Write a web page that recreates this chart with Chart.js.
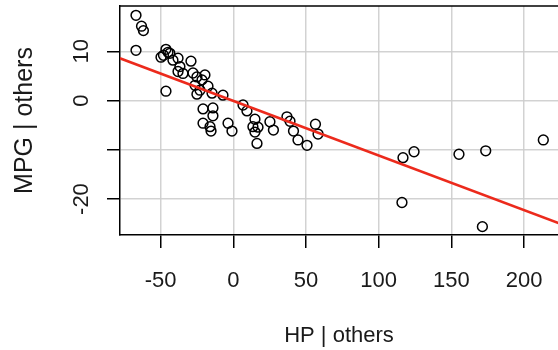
<!DOCTYPE html>
<html>
<head>
<meta charset="utf-8">
<script src="https://cdn.jsdelivr.net/npm/chart.js@4.4.1/dist/chart.umd.min.js"></script>
<style>
  html, body { margin: 0; padding: 0; background: #fff; }
  #wrap { width: 558px; height: 350px; }
</style>
</head>
<body>
<div id="wrap"><canvas id="chart"></canvas></div>
<script>
// Données (résidus partiels)
const hpOthers = [
  -66.9, -63.1, -61.8, -66.9, -46.3, -44.9, -48.0, -49.7, -43.6, -41.5,
  -38.0, -29.1, -36.7, -38.0, -34.6, -27.7, -25.0, -19.5, -21.5, -26.3,
  -22.9, -17.4, -14.6, -25.0, -46.3, -7.1, -20.8, -14.0, -14.0, -20.8,
  -16.0, -15.3, -3.6, -0.9, 6.7, 9.4, 14.9, 13.5, 17.0, 14.9,
  16.3, 25.2, 27.6, 36.9, 39.0, 41.4, 44.5, 50.7, 56.5, 58.3,
  116.7, 124.3, 116.0, 155.2, 173.6, 171.3, 213.2
];
const mpgOthers = [
  17.3, 15.1, 14.2, 10.2, 10.4, 9.8, 9.2, 8.8, 9.6, 8.2,
  8.6, 8.0, 6.9, 5.9, 5.5, 5.6, 4.8, 5.2, 4.2, 3.1,
  2.1, 2.9, 1.5, 1.3, 1.9, 1.1, -1.7, -1.5, -3.1, -4.6,
  -5.3, -6.2, -4.6, -6.2, -0.9, -2.1, -3.8, -5.3, -5.4, -6.4,
  -8.7, -4.3, -6.0, -3.3, -4.2, -6.2, -8.0, -9.1, -4.8, -6.8,
  -11.6, -10.4, -20.7, -10.9, -10.2, -25.6, -8.0
];

// Droite de régression (extrémités)
const fitX = [-78, 224];
const fitY = [8.6, -24.9];

const xTicks = [-50, 0, 50, 100, 150, 200];
const yTicks = [-20, -10, 0, 10];
const yTickLabels = ['-20', '', '0', '10'];

const FONT = "'Liberation Sans', Arial, sans-serif";
const TEXT = '#1a1a1a';

// Bordure du haut + étiquettes verticales de l'axe Y (style R)
const rStyle = {
  id: 'rStyle',
  afterDraw(chart) {
    const ctx = chart.ctx;
    const area = chart.chartArea;
    const y = chart.scales.y;
    ctx.save();
    ctx.strokeStyle = '#000';
    ctx.lineWidth = 1.5;
    ctx.beginPath();
    ctx.moveTo(area.left, area.top);
    ctx.lineTo(area.right, area.top);
    ctx.stroke();

    ctx.fillStyle = TEXT;
    ctx.font = '22px ' + FONT;
    ctx.textAlign = 'center';
    ctx.textBaseline = 'middle';
    yTicks.forEach((v, i) => {
      if (!yTickLabels[i]) return;
      const py = y.getPixelForValue(v);
      ctx.save();
      ctx.translate(82, py);
      ctx.rotate(-Math.PI / 2);
      ctx.fillText(yTickLabels[i], 0, 0);
      ctx.restore();
    });
    ctx.restore();
  }
};

const ctx = document.getElementById('chart').getContext('2d');
new Chart(ctx, {
  type: 'scatter',
  data: {
    datasets: [
      {
        label: 'points',
        data: hpOthers.map((x, i) => ({ x: x, y: mpgOthers[i] })),
        pointStyle: 'circle',
        pointRadius: 4.9,
        pointBorderWidth: 1.5,
        pointBorderColor: '#000',
        pointBackgroundColor: 'rgba(0,0,0,0)',
        showLine: false
      },
      {
        label: 'fit',
        data: fitX.map((x, i) => ({ x: x, y: fitY[i] })),
        showLine: true,
        borderColor: '#ec2a1c',
        borderWidth: 2.6,
        pointRadius: 0,
        order: -1
      }
    ]
  },
  options: {
    responsive: true,
    maintainAspectRatio: false,
    animation: false,
    layout: { autoPadding: false, padding: { top: 6, right: 0, bottom: 0, left: 0 } },
    plugins: {
      legend: { display: false },
      tooltip: { enabled: false }
    },
    scales: {
      x: {
        type: 'linear',
        min: -77.9,
        max: 223.3,
        afterBuildTicks: (scale) => { scale.ticks = xTicks.map(v => ({ value: v })); },
        afterFit: (scale) => {
          scale.height = 115;
          scale.paddingLeft = 0;
          scale.paddingRight = 0;
        },
        grid: {
          color: 'rgba(205,205,205,0.9)',
          lineWidth: 1.5,
          tickColor: '#000',
          tickLength: 13,
          tickWidth: 1.5
        },
        border: { display: true, color: '#000', width: 1.5 },
        ticks: {
          color: TEXT,
          font: { family: FONT, size: 22 },
          padding: 20,
          maxRotation: 0,
          autoSkip: false
        },
        title: {
          display: true,
          text: 'HP | others',
          color: TEXT,
          font: { family: FONT, size: 22 },
          padding: { top: 0, bottom: 1 }
        }
      },
      y: {
        type: 'linear',
        min: -27.3,
        max: 19.2,
        afterBuildTicks: (scale) => { scale.ticks = yTicks.map(v => ({ value: v })); },
        afterFit: (scale) => {
          scale.width = 120;
          scale.paddingTop = 0;
          scale.paddingBottom = 0;
        },
        grid: {
          color: 'rgba(205,205,205,0.9)',
          lineWidth: 1.5,
          tickColor: '#000',
          tickLength: 13,
          tickWidth: 1.5
        },
        border: { display: true, color: '#000', width: 1.5 },
        ticks: { display: false },
        title: {
          display: true,
          text: 'MPG | others',
          color: TEXT,
          font: { family: FONT, size: 25 },
          padding: { top: 10, bottom: 0 }
        }
      }
    }
  },
  plugins: [rStyle]
});
</script>
</body>
</html>
